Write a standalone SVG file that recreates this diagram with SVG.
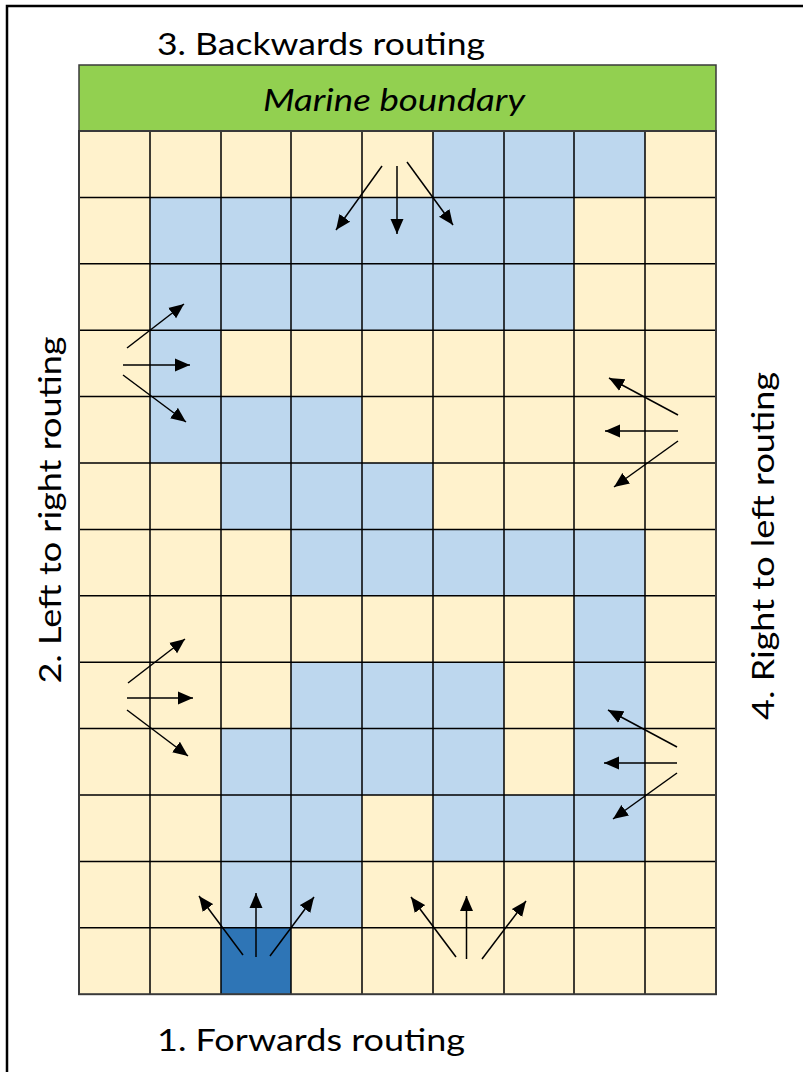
<svg xmlns="http://www.w3.org/2000/svg" width="803" height="1072" viewBox="0 0 803 1072">
<style>
.lbl{font-family:Lato,"Liberation Sans",sans-serif;font-size:31px;fill:#000}
.cream{fill:#FFF2CC}
.blue{fill:#BDD7EE}
.dark{fill:#2E75B6}
.grid{stroke:#000;stroke-width:1.5;fill:none}
.arr{stroke:#000;stroke-width:1.5;fill:none;marker-end:url(#ah)}
</style>
<defs>
<marker id="ah" markerUnits="userSpaceOnUse" markerWidth="16" markerHeight="14" refX="15" refY="6.5" orient="auto" viewBox="0 0 16 13">
<path d="M0,0 L15,6.5 L0,13 z" fill="#000"/>
</marker>
</defs>
<rect width="803" height="1072" fill="#fff"/>
<path d="M7,1072 V6 H803" stroke="#000" stroke-width="2.5" fill="none"/>

<g id="labels">
<text class="lbl" x="321" y="55" text-anchor="middle" textLength="328" lengthAdjust="spacingAndGlyphs">3. Backwards routing</text>
<text class="lbl" x="311" y="1051" text-anchor="middle" textLength="308" lengthAdjust="spacingAndGlyphs">1. Forwards routing</text>
<text class="lbl" transform="translate(61,510) rotate(-90)" text-anchor="middle" textLength="347" lengthAdjust="spacingAndGlyphs">2. Left to right routing</text>
<text class="lbl" transform="translate(774,546) rotate(-90)" text-anchor="middle" textLength="348" lengthAdjust="spacingAndGlyphs">4. Right to left routing</text>
</g>

<g id="marine">
<rect x="79" y="65" width="637" height="66" fill="#92D050" stroke="#3a3a3a" stroke-width="1.5"/>
<text class="lbl" x="394" y="111" text-anchor="middle" font-style="italic" textLength="262" lengthAdjust="spacingAndGlyphs">Marine boundary</text>
</g>

<g id="cells">
<rect class="cream" x="79" y="131" width="637" height="863.2"/>
<rect class="blue" x="433" y="131" width="212" height="66.4"/>
<rect class="blue" x="150" y="197.4" width="424" height="132.8"/>
<rect class="blue" x="150" y="330.2" width="71" height="66.4"/>
<rect class="blue" x="150" y="396.6" width="212" height="66.4"/>
<rect class="blue" x="221" y="463" width="212" height="66.4"/>
<rect class="blue" x="291" y="529.4" width="354" height="66.4"/>
<rect class="blue" x="574" y="595.8" width="71" height="66.4"/>
<rect class="blue" x="291" y="662.2" width="213" height="66.4"/>
<rect class="blue" x="574" y="662.2" width="71" height="66.4"/>
<rect class="blue" x="221" y="728.6" width="283" height="66.4"/>
<rect class="blue" x="574" y="728.6" width="71" height="66.4"/>
<rect class="blue" x="221" y="795" width="141" height="66.4"/>
<rect class="blue" x="433" y="795" width="212" height="66.4"/>
<rect class="blue" x="221" y="861.4" width="141" height="66.4"/>
<rect class="dark" x="221" y="927.8" width="70" height="66.4"/>
<path class="grid" d="M150,131V994.2M221,131V994.2M291,131V994.2M362,131V994.2M433,131V994.2M504,131V994.2M574,131V994.2M645,131V994.2
M79,197.4H716M79,263.8H716M79,330.2H716M79,396.6H716M79,463H716M79,529.4H716M79,595.8H716M79,662.2H716M79,728.6H716M79,795H716M79,861.4H716M79,927.8H716"/>
<rect x="79" y="131" width="637" height="863.2" fill="none" stroke="#3a3a3a" stroke-width="2"/>
</g>

<g id="connectors">
<!-- forwards from dark cell -->
<line class="arr" x1="256" y1="957" x2="256" y2="893"/>
<line class="arr" x1="243" y1="955" x2="199" y2="896"/>
<line class="arr" x1="270" y1="956" x2="314" y2="897"/>
<!-- forwards right -->
<line class="arr" x1="466.5" y1="959" x2="466.5" y2="896"/>
<line class="arr" x1="456" y1="957" x2="411" y2="897"/>
<line class="arr" x1="482" y1="959" x2="526" y2="901"/>
<!-- right to left lower -->
<line class="arr" x1="677" y1="763" x2="604" y2="763"/>
<line class="arr" x1="677" y1="747" x2="608" y2="710"/>
<line class="arr" x1="677" y1="773" x2="613" y2="819"/>
<!-- right to left upper -->
<line class="arr" x1="678" y1="431" x2="605" y2="431"/>
<line class="arr" x1="678" y1="415" x2="609" y2="378"/>
<line class="arr" x1="678" y1="441" x2="614" y2="487"/>
<!-- left to right upper -->
<line class="arr" x1="127" y1="348" x2="184" y2="304"/>
<line class="arr" x1="123" y1="365" x2="190" y2="365"/>
<line class="arr" x1="123" y1="375" x2="186" y2="422"/>
<!-- left to right lower -->
<line class="arr" x1="128" y1="683" x2="185" y2="639"/>
<line class="arr" x1="127" y1="698" x2="193" y2="698"/>
<line class="arr" x1="127" y1="710" x2="188" y2="756"/>
<!-- backwards -->
<line class="arr" x1="397" y1="166" x2="397" y2="234"/>
<line class="arr" x1="382" y1="166" x2="336" y2="230"/>
<line class="arr" x1="407" y1="162" x2="453" y2="225"/>
</g>
</svg>
